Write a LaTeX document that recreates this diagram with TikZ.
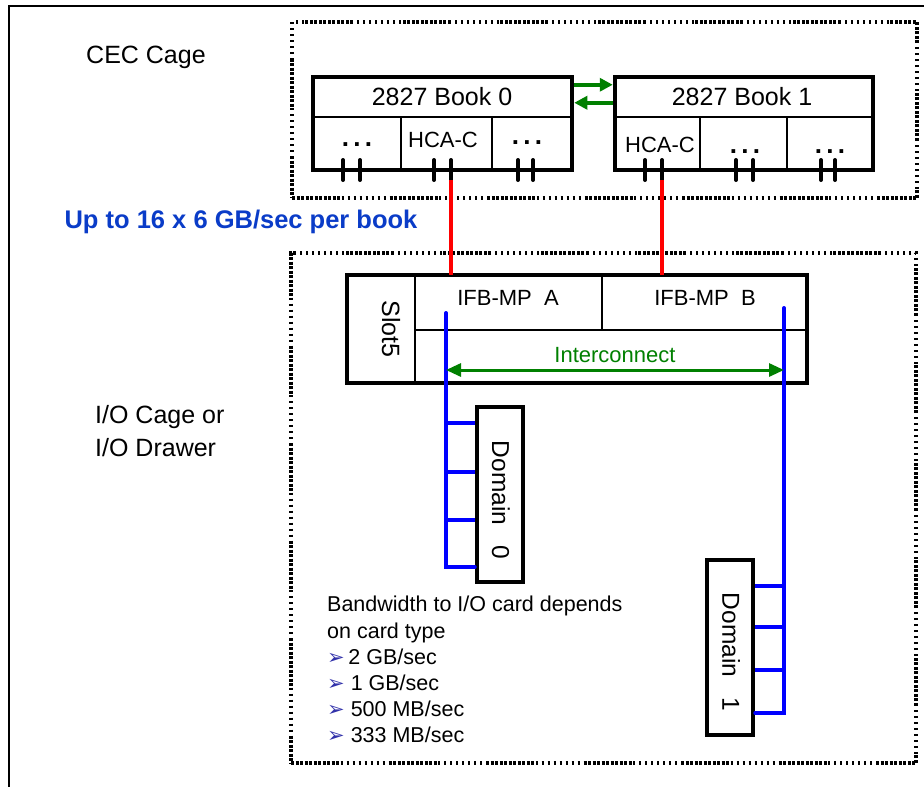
\documentclass[tikz,border=0pt]{standalone}
\usepackage{fontspec}
\setmainfont{Liberation Sans}
\newfontfamily\symfont{DejaVu Sans}
\usetikzlibrary{arrows.meta}
\definecolor{grn}{RGB}{0,128,0}
\definecolor{blu}{RGB}{0,0,255}
\definecolor{tblue}{RGB}{10,60,200}
\definecolor{bul}{RGB}{50,50,170}
\definecolor{redl}{RGB}{255,0,0}
\newcommand{\fs}[1]{\fontsize{#1}{#1}\selectfont}
\begin{document}
\begin{tikzpicture}[x=1pt,y=-1pt,
  cage/.style={draw, line width=3.5pt, inner sep=0pt,
    dash pattern=on 3pt off 1.5pt on 3pt off 1.5pt on 3pt off 1.5pt on 3pt off 1.5pt on 3pt off 1.5pt on 3pt off 1.5pt on 3pt off 1.5pt on 3pt off 1.5pt on 3pt off 1.5pt on 3pt off 1.5pt on 3pt off 1.5pt on 2pt off 4pt on 2pt off 4pt on 2pt off 4pt on 2pt off 4pt on 2pt off 4pt on 2pt off 4pt on 2pt off 4pt on 2pt off 4pt},
  obox/.style={draw, line width=4.5pt, inner sep=0pt},
  inl/.style={line width=2pt},
  pin/.style={line width=4pt, line cap=round},
  redw/.style={redl, line width=4pt},
  bluew/.style={blu, line width=4pt, line cap=round},
  garrow/.style={grn, line width=4pt, -{Triangle[length=13pt,width=13pt]}},
  lbl/.style={inner sep=0pt, font=\fs{25}},
  txt/.style={inner sep=0pt, font=\fs{21.5}},
  dots/.style={inner sep=0pt, font=\fs{26}\bfseries},
  btxt/.style={inner sep=0pt, font=\fs{21.5}, anchor=base west}
]
\useasboundingbox (0,0) rectangle (924,787);
\fill[white] (0,0) rectangle (924,787);
% outer frame
\draw[line width=1.5pt] (9,787) -- (9,6) -- (924,6);

% cages
\node[cage, minimum width=625pt, minimum height=176pt] (cec) at (604.5,110) {};
\node[cage, minimum width=625pt, minimum height=510pt] (io) at (603.5,508) {};

% labels
\node[lbl, anchor=west] (ceclbl) at (86,57) {CEC Cage};
\node[lbl, font=\fs{25.5}\bfseries, text=tblue] (bw) at (241,222) {Up to 16 x 6 GB/sec per book};
\node[lbl, anchor=west] (iolbl1) at (95,417) {I/O Cage or};
\node[lbl, anchor=west] (iolbl2) at (95,448) {I/O Drawer};

% Book 0
\node[obox, minimum width=259pt, minimum height=93pt] (b0) at (442.5,123.5) {};
\draw[inl] (313,117) -- (572,117);
\draw[inl] (401,117) -- (401,170);
\draw[inl] (492,117) -- (492,170);
\node[txt, font=\fs{25}] (b0t) at (442,97) {2827 Book 0};
\node[txt, font=\fs{22}] (b0h) at (443,140) {HCA-C};
\node[dots] (b0d1) at (357,145) {.\,.\,.};
\node[dots] (b0d2) at (527,143) {.\,.\,.};
\foreach \x in {343,360,434,451,518,533} \draw[pin] (\x,160) -- (\x,180);
\coordinate (p0) at (451,180);

% Book 1
\node[obox, minimum width=258pt, minimum height=93pt] (b1) at (744,123.5) {};
\draw[inl] (615,117) -- (873,117);
\draw[inl] (700,117) -- (700,170);
\draw[inl] (787,117) -- (787,170);
\node[txt, font=\fs{25}] (b1t) at (742,97) {2827 Book 1};
\node[txt, font=\fs{22}] (b1h) at (660,145) {HCA-C};
\node[dots] (b1d1) at (745,152) {.\,.\,.};
\node[dots] (b1d2) at (830,152) {.\,.\,.};
\foreach \x in {645,662,736,753,821,835} \draw[pin] (\x,160) -- (\x,180);
\coordinate (p1) at (662,180);

% green arrows between books
\draw[garrow] ([yshift=-10pt]b0.north east) -- ([yshift=-10pt]b1.north west);
\draw[garrow] ([yshift=-28pt]b1.north west) -- ([yshift=-28pt]b0.north east);

% Slot box
\node[obox, minimum width=460pt, minimum height=108pt] (slot) at (577,329) {};
\draw[inl] (415,275) -- (415,383);
\draw[inl] (415,330) -- (807,330);
\draw[inl] (602,275) -- (602,330);
\node[txt, font=\fs{25}, rotate=-90] (slott) at (391,329) {Slot5};
\node[txt, font=\fs{22}] (ifba) at (508,298) {IFB-MP\ \ A};
\node[txt, font=\fs{22}] (ifbb) at (705,298) {IFB-MP\ \ B};
\node[txt, font=\fs{22}, text=grn] (ic) at (615,355) {Interconnect};

% red links
\coordinate (sa) at (451,275);
\coordinate (sb) at (662,275);
\draw[redw] (p0) -- (sa);
\draw[redw] (p1) -- (sb);

% Domains
\node[obox, minimum width=46pt, minimum height=175pt] (d0) at (500,494.5) {};
\node[txt, font=\fs{24.5}, rotate=-90] (d0t) at (501,500) {Domain\ \ \ 0};
\node[obox, minimum width=46pt, minimum height=175pt] (d1) at (730,647.5) {};
\node[txt, font=\fs{24.5}, rotate=-90] (d1t) at (731,652) {Domain\ \ \ 1};

% blue buses
\coordinate (ta) at (446,313);
\coordinate (tb) at (784,308);
\coordinate (ea) at (446,567);
\coordinate (eb) at (784,713);
\draw[bluew] (ta) -- (ea) -- (ea -| d0.west);
\foreach \y in {423,472,520} \draw[blu, line width=4pt] (446,\y) -- (d0.west |- 0,\y);
\draw[bluew] (tb) -- (eb) -- (eb -| d1.east);
\foreach \y in {586,627,670} \draw[blu, line width=4pt] (784,\y) -- (d1.east |- 0,\y);

% interconnect arrow
\draw[grn, line width=3pt, {Triangle[length=15pt,width=13pt]}-{Triangle[length=15pt,width=13pt]}] (ta |- 0,370) -- (tb |- 0,370);

% bandwidth text
\node[btxt] (l1) at (327,611) {Bandwidth to I/O card depends};
\node[btxt] (l2) at (327,638) {on card type};
\node[btxt] (l3) at (327,664) {{\symfont\fs{21}\color{bul}➢}\,2 GB/sec};
\node[btxt] (l4) at (327,690) {{\symfont\fs{21}\color{bul}➢}\ 1 GB/sec};
\node[btxt] (l5) at (327,716) {{\symfont\fs{21}\color{bul}➢}\ 500 MB/sec};
\node[btxt] (l6) at (327,742) {{\symfont\fs{21}\color{bul}➢}\ 333 MB/sec};
\end{tikzpicture}
\end{document}
